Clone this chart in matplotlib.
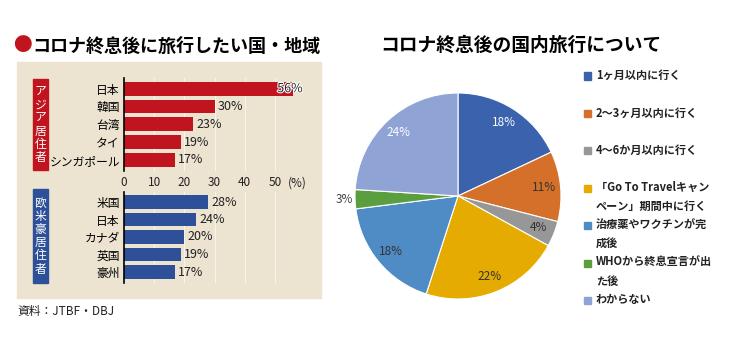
import numpy as np
import matplotlib
matplotlib.use('Agg')
import matplotlib.pyplot as plt
import matplotlib.patheffects as pe
from matplotlib.patches import Rectangle

plt.rcParams['font.family'] = ['Noto Sans CJK JP', 'DejaVu Sans']

# Left chart: countries people want to travel to after COVID
asia_labels = ['日本', '韓国', '台湾', 'タイ', 'シンガポール']
asia_values = [56, 30, 23, 19, 17]
west_labels = ['米国', '日本', 'カナダ', '英国', '豪州']
west_values = [28, 24, 20, 19, 17]
x_ticks = [0, 10, 20, 30, 40, 50]

# Right chart: domestic travel timing
pie_labels = ['1ヶ月以内に行く', '2〜3ヶ月以内に行く', '4〜6か月以内に行く',
              '「Go To Travelキャン\nペーン」期間中に行く', '治療薬やワクチンが完\n成後',
              'WHOから終息宣言が出\nた後', 'わからない']
pie_values = [18, 11, 4, 22, 18, 3, 24]
pie_colors = ['#3a62ad', '#d4702a', '#979797', '#e5ab00', '#4f8bc5', '#5b9e3f', '#8fa3d4']
pie_text_colors = ['white', '#333333', '#333333', '#333333', '#333333', '#444444', 'white']

W, H = 736, 344
BEIGE = '#ece3d0'
RED = '#c0141e'
BLUE = '#2e5099'

fig = plt.figure(figsize=(W / 100, H / 100), dpi=100)


def box(x0, y0, x1, y1):
    # pixel box (top-left origin) -> figure fraction rect
    return [x0 / W, 1 - y1 / H, (x1 - x0) / W, (y1 - y0) / H]


def fx(x):
    return x / W


def fy(y):
    return 1 - y / H


# beige panel
fig.add_artist(Rectangle((fx(17), fy(298)), (321 - 17) / W, (298 - 62) / H,
                         transform=fig.transFigure, color=BEIGE, zorder=0))

fig.text(fx(13), fy(46), '●', color=RED, fontsize=13.5, va='center', ha='left')
fig.text(fx(32), fy(46), 'コロナ終息後に旅行したい国・地域', color='black',
         fontsize=13, fontweight='bold', va='center', ha='left')


def bar_panel(rect, labels, values, color):
    ax = fig.add_axes(rect)
    ax.set_facecolor('none')
    y = np.arange(len(values))
    ax.barh(y, values, height=0.78, color=color, zorder=3)
    ax.set_xlim(0, 60)
    ax.set_ylim(len(values) - 0.4, -0.6)
    ax.set_yticks(y)
    ax.set_yticklabels(labels, fontsize=8.5)
    ax.tick_params(axis='y', length=0, pad=3)
    ax.set_xticks([])
    for g in x_ticks[1:]:
        ax.axvline(g, color='#f8f4ea', lw=0.8, zorder=1)
    for s in ['top', 'right', 'bottom']:
        ax.spines[s].set_visible(False)
    ax.spines['left'].set_linewidth(1.2)
    ax.spines['left'].set_zorder(4)
    for yi, v in zip(y, values):
        t = ax.text(min(v + 1, 50.8), yi, f'{v}%', va='center', ha='left',
                    fontsize=9, color='#222222', zorder=5)
        if v > 50:
            t.set_path_effects([pe.withStroke(linewidth=1.5, foreground='white')])
    return ax


ax1 = bar_panel(box(124, 78, 305, 170.5), asia_labels, asia_values, RED)
ax2 = bar_panel(box(124, 191.5, 305, 282.5), west_labels, west_values, BLUE)
# shared x ticks between the two panels
for t in x_ticks:
    fig.text(fx(124 + t * 181 / 60), fy(183), str(t), fontsize=8.5,
             ha='center', va='center', color='#222222')
fig.text(fx(297), fy(183), '(%)', fontsize=8.5, ha='center', va='center', color='#222222')

# vertical group labels
for (y0, y1, col, txt) in [(79, 170, RED, 'アジア居住者'), (189, 283, BLUE, '欧米豪居住者')]:
    fig.add_artist(Rectangle((fx(33), fy(y1)), 15 / W, (y1 - y0) / H,
                             transform=fig.transFigure, color=col, zorder=1))
    fig.text(fx(40.5), fy((y0 + y1) / 2), '\n'.join(txt), color='white',
             fontsize=8.5, ha='center', va='center', linespacing=1.02, zorder=2)

fig.text(fx(17), fy(312), '資料：JTBF・DBJ', fontsize=8.5, ha='left', va='center',
         color='#222222')

# right: pie chart
fig.text(fx(521), fy(45), 'コロナ終息後の国内旅行について', fontsize=13.5,
         fontweight='bold', ha='center', va='center')

axp = fig.add_axes(box(355, 93, 561, 299))
wedges, texts = axp.pie(pie_values, colors=pie_colors, startangle=90, counterclock=False,
                        wedgeprops=dict(edgecolor='white', linewidth=0.8))
axp.set_xlim(-1, 1)
axp.set_ylim(-1, 1)
axp.set_aspect('equal')
for w, v, tc in zip(wedges, pie_values, pie_text_colors):
    ang = np.deg2rad((w.theta1 + w.theta2) / 2)
    r = 0.84 if v > 3 else 1.1
    axp.text(r * np.cos(ang), r * np.sin(ang), f'{v}%', color=tc, fontsize=8.5,
             ha='center', va='center')

# legend
for i, (lab, col) in enumerate(zip(pie_labels, pie_colors)):
    yc = 76 + i * 37.4
    fig.add_artist(Rectangle((fx(583.5), fy(yc + 3.5)), 7 / W, 7 / H,
                             transform=fig.transFigure, color=col))
    fig.text(fx(596), fy(yc - 7), lab, fontsize=8, fontweight='bold',
             ha='left', va='top', linespacing=1.6, color='#222222')

fig.savefig('out.png', dpi=100)
